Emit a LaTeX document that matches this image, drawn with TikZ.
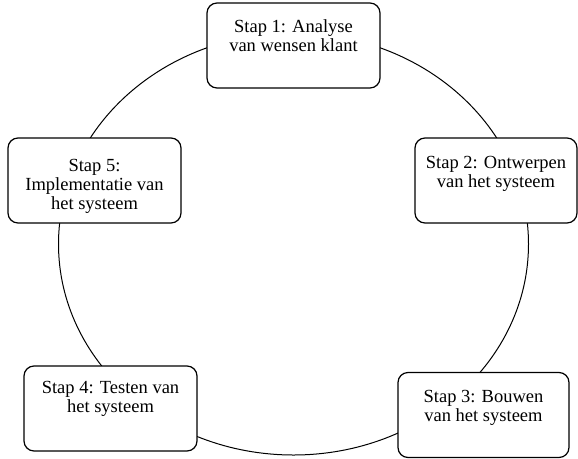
\documentclass[tikz,border=0pt]{standalone}
\usepackage{fontspec}
\setmainfont{Liberation Serif}
\newcommand\stepcontent[4]{\parbox[c][#1pt][t]{#4pt}{\centering\fontsize{18.5}{19}\selectfont\rule{0pt}{#2pt}#3}}
\tikzset{
  stepbox/.style={draw=black, line width=1.2pt, rounded corners=10pt, fill=white,
    inner sep=0pt, minimum width=#1, minimum height=85pt},
  ring/.style={draw=black, line width=1pt}
}
\begin{document}
\begin{tikzpicture}[x=1pt,y=-1pt]
\useasboundingbox (0,0) rectangle (578,458);
\coordinate (mid) at (293.5,244);
\draw[ring] (mid) ellipse [x radius=235pt, y radius=211pt];
\node[stepbox=173pt] (s1) at (293.5,45.5) {\stepcontent{85}{29}{Stap 1: Analyse\\van wensen klant}{168}};
\node[stepbox=162pt] (s2) at (496,180.5) {\stepcontent{85}{30}{Stap 2: Ontwerpen\\van het systeem}{158}};
\node[stepbox=171pt] (s3) at (483.5,415) {\stepcontent{84}{29}{Stap 3: Bouwen\\van het systeem}{166}};
\node[stepbox=173pt] (s4) at (110.5,408.5) {\stepcontent{85}{27}{Stap 4: Testen van\\het systeem}{168}};
\node[stepbox=173pt] (s5) at (94.5,180.5) {\stepcontent{85}{33}{Stap 5:\\Implementatie van\\het systeem}{168}};
\end{tikzpicture}
\end{document}
